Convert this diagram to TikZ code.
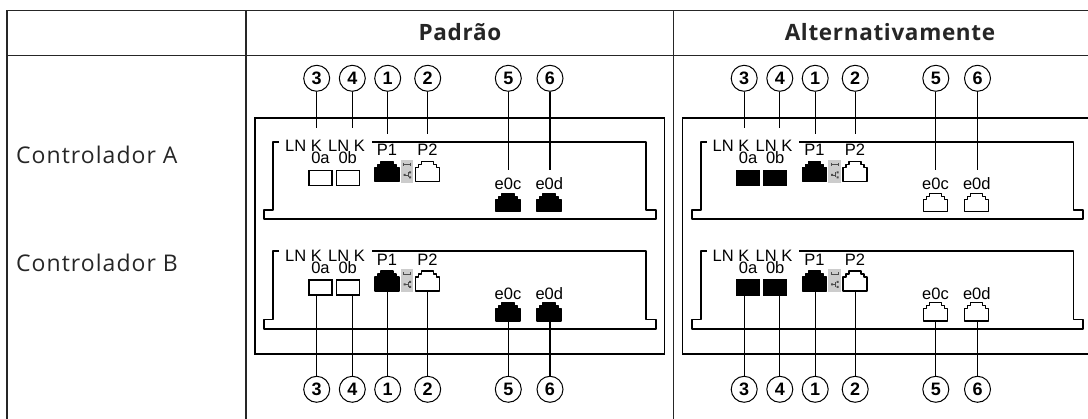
\documentclass[tikz,border=0pt]{standalone}
\usepackage{fontspec}
\setmainfont{Liberation Sans}
\newfontfamily\hdrfont[LetterSpace=3]{Open Sans}
\newfontfamily\rowfont[LetterSpace=4.5]{Open Sans}
\newcommand\rjport[5]{%
  \draw[port, fill=#4] (#1,#2+#3) -- (#1,#2+6) -- (#1+3,#2+6) -- (#1+3,#2+3) -- (#1+6,#2+3) -- (#1+6,#2) -- (#1+18,#2) -- (#1+18,#2+3) -- (#1+21,#2+3) -- (#1+21,#2+6) -- (#1+24,#2+6) -- (#1+24,#2+#3) -- cycle;
  \coordinate (#5) at (#1+12,#2+#3);}
\begin{document}
\begin{tikzpicture}[x=1pt,y=-1pt,
  tbl/.style={draw=black!85, line width=1.3pt},
  outer/.style={draw=black, line width=1.5pt},
  tray/.style={draw=black, line width=1.7pt, line join=round},
  port/.style={draw=black, line width=1.4pt, line join=round},
  sfp/.style={draw=black, line width=1.4pt, minimum width=23pt, minimum height=15pt, inner sep=0pt},
  num/.style={circle, draw=black, line width=1pt, minimum size=26pt, inner sep=0pt, font=\bfseries\fontsize{18}{18}\selectfont},
  lbl/.style={inner sep=0pt, font=\fontsize{16.5}{16.5}\selectfont},
  lead/.style={draw=black, line width=1.1pt},
  icon/.style={draw=black!70, line width=0.7pt},
  hdr/.style={inner sep=0pt, text=black!85, font=\hdrfont\bfseries\fontsize{22.5}{22.5}\selectfont},
  row/.style={inner sep=0pt, text=black!85, font=\rowfont\fontsize{23}{23}\selectfont}]
\useasboundingbox (0,0) rectangle (1088,419);
% table
\draw[tbl] (7,421) -- (7,10.3) -- (1090,10.3);
\draw[tbl] (7,55.3) -- (1090,55.3);
\draw[tbl] (246,10.3) -- (246,421);
\draw[tbl] (673.3,10.3) -- (673.3,421);
\node[hdr] (hpad) at (460,32.5) {Padrão};
\node[hdr] (halt) at (890,32.5) {Alternativamente};
\node[row, anchor=base west] (rowA) at (16,163.3) {Controlador A};
\node[row, anchor=base west] (rowB) at (16,271.7) {Controlador B};
% drawings
\foreach \side/\dx/\bxf/\etf in {L/0/white/black, R/427.5/black/white}{
  \draw[outer] (\dx+255,118) rectangle (\dx+664.3,354);
  \foreach \tr/\dy in {A/0, B/109.5}{
    \draw[tray] (\dx+279,\dy+141.7) -- (\dx+273.3,\dy+141.7) -- (\dx+273.3,\dy+210) -- (\dx+264.3,\dy+210) -- (\dx+264.3,\dy+219.3) -- (\dx+655.7,\dy+219.3) -- (\dx+655.7,\dy+210) -- (\dx+646,\dy+210) -- (\dx+646,\dy+141.7) -- (\dx+371.7,\dy+141.7);
    \node[lbl, anchor=base east] (lnka\side\tr) at (\dx+322,\dy+151.7) {LN K};
    \node[lbl, anchor=base east] (lnkb\side\tr) at (\dx+365,\dy+151.7) {LN K};
    \node[lbl, anchor=base] (la\side\tr) at (\dx+320.5,\dy+164) {0a};
    \node[lbl, anchor=base] (lb\side\tr) at (\dx+347.7,\dy+164) {0b};
    \node[sfp, fill=\bxf] (sa\side\tr) at (\dx+320.5,\dy+178) {};
    \node[sfp, fill=\bxf] (sb\side\tr) at (\dx+347.7,\dy+178) {};
    \node[lbl, anchor=base] (lp1\side\tr) at (\dx+387,\dy+156) {P1};
    \node[lbl, anchor=base] (lp2\side\tr) at (\dx+427.5,\dy+156) {P2};
    \rjport{\dx+375}{\dy+161.7}{20}{black}{p1\side\tr}
    \rjport{\dx+415.5}{\dy+161.7}{20}{white}{p2\side\tr}
    \fill[black!20] (\dx+400.7,\dy+160) rectangle (\dx+413.3,\dy+182.7);
    \draw[icon] (\dx+403.5,\dy+164.5) -- (\dx+410.5,\dy+164.5);
    \draw[icon] (\dx+403.5,\dy+163) -- (\dx+403.5,\dy+166);
    \draw[icon] (\dx+410.5,\dy+163) -- (\dx+410.5,\dy+166);
    \draw[icon] (\dx+405,\dy+175) -- (\dx+408,\dy+175) (\dx+408,\dy+172.5) -- (\dx+408,\dy+177.5);
    \fill[black!70] (\dx+403.5,\dy+174) rectangle ++(2,2) (\dx+409,\dy+171.5) rectangle ++(2,2) (\dx+409,\dy+176.5) rectangle ++(2,2);
    \node[lbl, anchor=base] (lc\side\tr) at (\dx+508,\dy+190) {e0c};
    \node[lbl, anchor=base] (ld\side\tr) at (\dx+549.3,\dy+190) {e0d};
    \rjport{\dx+496}{\dy+193.3}{18.4}{\etf}{pc\side\tr}
    \rjport{\dx+537}{\dy+193.3}{18.4}{\etf}{pd\side\tr}
  }
  \foreach \n/\cx/\ey/\by in {3/316.7/128/186, 4/352.3/128/186, 1/387.7/134/181.7, 2/427.7/134/181.7, 5/508.3/170/211.7, 6/550/170/211.7}{
    \node[num] (t\n\side) at (\dx+\cx,78.3) {\n};
    \node[num] (b\n\side) at (\dx+\cx,389.3) {\n};
    \coordinate (te\n\side) at (\dx+\cx,\ey);
    \coordinate (be\n\side) at (\dx+\cx,\by+109.5);
    \draw[lead] (t\n\side) -- (te\n\side);
    \draw[lead] (be\n\side) -- (b\n\side);
  }
}
\end{tikzpicture}
\end{document}
